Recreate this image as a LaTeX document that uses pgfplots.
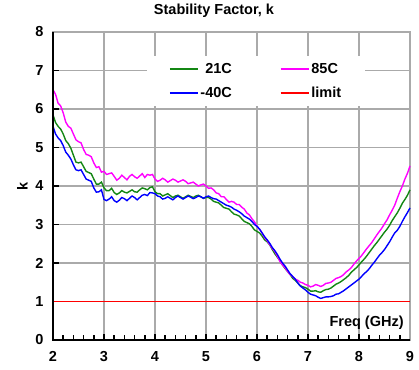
\documentclass[border=0pt]{standalone}
\usepackage{pgfplots}
\pgfplotsset{compat=1.18}
\usepackage{fontspec}
\setmainfont{Liberation Sans}
\definecolor{kgreen}{RGB}{20,135,20}
\definecolor{kmag}{RGB}{255,0,255}
\definecolor{kblue}{RGB}{0,0,255}
\definecolor{kred}{RGB}{255,0,0}
\definecolor{kgrid}{RGB}{170,170,170}
\newcommand{\chartfont}{\bfseries\fontsize{14.5}{17}\selectfont}
\begin{document}
\begin{tikzpicture}
\begin{axis}[
  scale only axis, width=357pt, height=308pt,
  xmin=2, xmax=9, ymin=0, ymax=8,
  xtick={2,3,4,5,6,7,8,9}, ytick={0,1,2,3,4,5,6,7,8},
  minor x tick num=4,
  axis line style={kgrid, line width=1.5pt},
  xmajorgrids, ymajorgrids,
  major grid style={kgrid, line width=1.5pt},
  tick align=inside,
  xtick pos=bottom, ytick pos=left,
  major tick length=6pt, minor tick length=5pt,
  every tick/.style={black, line width=1.5pt},
  /pgf/number format/assume math mode=true,
  ticklabel style={font=\chartfont},
  xticklabel style={yshift=-8pt},
  yticklabel style={xshift=-6pt},
  title={Stability Factor, k},
  title style={font=\chartfont, at={(axis description cs:0.451,1)}, anchor=base, yshift=11pt},
  xlabel={Freq (GHz)},
  every axis x label/.style={at={(axis description cs:0.992,0.055)}, anchor=east, font=\chartfont},
  ylabel={k},
  every axis y label/.style={at={(axis description cs:-0.086,0.5)}, anchor=center, rotate=90, font=\chartfont},
  legend columns=2,
  legend style={at={(axis description cs:0.263,0.922)}, anchor=north west, draw=none, fill=white,
    font=\chartfont, inner xsep=22pt, inner ysep=5pt, row sep=8pt,
    /tikz/every even column/.append style={column sep=46pt},
    nodes={inner sep=2pt}},
  legend cell align=left,
  legend image code/.code={\draw[#1] (0pt,0pt) -- (28pt,0pt);},
  clip=false,
]
\coordinate (sw) at (rel axis cs:0,0);
\coordinate (ne) at (rel axis cs:1,1);
\addplot[kgreen, line width=1.4pt] coordinates {
(2.00,5.85) (2.05,5.65) (2.10,5.55) (2.15,5.48) (2.20,5.35) (2.25,5.18) (2.30,5.10) (2.35,4.98) (2.40,4.80) (2.45,4.62)
(2.50,4.60) (2.55,4.62) (2.60,4.50) (2.65,4.38) (2.70,4.35) (2.75,4.32) (2.80,4.18) (2.85,4.05) (2.90,4.05) (2.95,4.10)
(3.00,3.95) (3.05,3.88) (3.10,3.88) (3.15,3.94) (3.20,3.83) (3.25,3.78) (3.30,3.82) (3.35,3.88) (3.40,3.84) (3.45,3.82)
(3.50,3.86) (3.55,3.90) (3.60,3.85) (3.65,3.84) (3.70,3.90) (3.75,3.95) (3.80,3.93) (3.85,3.90) (3.90,3.96) (3.95,3.98)
(4.00,3.85) (4.05,3.80) (4.10,3.80) (4.15,3.74) (4.20,3.77) (4.25,3.80) (4.30,3.75) (4.35,3.70) (4.40,3.74) (4.45,3.76)
(4.50,3.72) (4.55,3.68) (4.60,3.72) (4.65,3.76) (4.70,3.73) (4.75,3.70) (4.80,3.74) (4.85,3.76) (4.90,3.72) (4.95,3.68)
(5.00,3.70) (5.05,3.70) (5.10,3.66) (5.15,3.60) (5.20,3.58) (5.25,3.56) (5.30,3.50) (5.35,3.44) (5.40,3.42) (5.45,3.40)
(5.50,3.33) (5.55,3.27) (5.60,3.25) (5.65,3.22) (5.70,3.15) (5.75,3.08) (5.80,3.05) (5.85,3.02) (5.90,2.95) (5.95,2.86)
(6.00,2.82) (6.05,2.78) (6.10,2.70) (6.15,2.60) (6.20,2.55) (6.25,2.47) (6.30,2.35) (6.35,2.24) (6.40,2.15) (6.45,2.06)
(6.50,1.95) (6.55,1.86) (6.60,1.78) (6.65,1.70) (6.70,1.60) (6.75,1.55) (6.80,1.48) (6.85,1.41) (6.90,1.38) (6.95,1.36)
(7.00,1.32) (7.05,1.27) (7.10,1.27) (7.15,1.28) (7.20,1.25) (7.25,1.24) (7.30,1.28) (7.35,1.31) (7.40,1.32) (7.45,1.35)
(7.50,1.40) (7.55,1.45) (7.60,1.48) (7.65,1.52) (7.70,1.57) (7.75,1.62) (7.80,1.68) (7.85,1.76) (7.90,1.82) (7.95,1.88)
(8.00,1.95) (8.05,2.03) (8.10,2.10) (8.15,2.18) (8.20,2.27) (8.25,2.36) (8.30,2.45) (8.35,2.53) (8.40,2.62) (8.45,2.71)
(8.50,2.80) (8.55,2.88) (8.60,2.98) (8.65,3.10) (8.70,3.20) (8.75,3.30) (8.80,3.42) (8.85,3.55) (8.90,3.65) (8.95,3.76)
(9.00,3.90)};
\addlegendentry{\phantom{-}21C}
\addplot[kmag, line width=1.4pt] coordinates {
(2.00,6.50) (2.05,6.38) (2.10,6.15) (2.15,6.08) (2.20,5.90) (2.25,5.66) (2.30,5.55) (2.35,5.50) (2.40,5.35) (2.45,5.20)
(2.50,5.15) (2.55,5.12) (2.60,4.95) (2.65,4.82) (2.70,4.80) (2.75,4.76) (2.80,4.60) (2.85,4.48) (2.90,4.50) (2.95,4.36)
(3.00,4.38) (3.05,4.30) (3.10,4.32) (3.15,4.34) (3.20,4.25) (3.25,4.15) (3.30,4.20) (3.35,4.28) (3.40,4.22) (3.45,4.16)
(3.50,4.25) (3.55,4.30) (3.60,4.24) (3.65,4.20) (3.70,4.26) (3.75,4.32) (3.80,4.22) (3.85,4.30) (3.90,4.28) (3.95,4.30)
(4.00,4.18) (4.05,4.12) (4.10,4.15) (4.15,4.20) (4.20,4.16) (4.25,4.10) (4.30,4.14) (4.35,4.18) (4.40,4.15) (4.45,4.10)
(4.50,4.13) (4.55,4.16) (4.60,4.12) (4.65,4.06) (4.70,4.08) (4.75,4.10) (4.80,4.05) (4.85,4.00) (4.90,4.03) (4.95,4.05)
(5.00,4.00) (5.05,3.94) (5.10,3.95) (5.15,3.90) (5.20,3.82) (5.25,3.80) (5.30,3.72) (5.35,3.72) (5.40,3.65) (5.45,3.58)
(5.50,3.60) (5.55,3.58) (5.60,3.52) (5.65,3.52) (5.70,3.45) (5.75,3.40) (5.80,3.30) (5.85,3.25) (5.90,3.15) (5.95,3.07)
(6.00,2.95) (6.05,2.88) (6.10,2.78) (6.15,2.66) (6.20,2.58) (6.25,2.48) (6.30,2.38) (6.35,2.30) (6.40,2.18) (6.45,2.04)
(6.50,1.95) (6.55,1.88) (6.60,1.78) (6.65,1.70) (6.70,1.65) (6.75,1.58) (6.80,1.55) (6.85,1.50) (6.90,1.48) (6.95,1.44)
(7.00,1.42) (7.05,1.38) (7.10,1.40) (7.15,1.44) (7.20,1.42) (7.25,1.39) (7.30,1.42) (7.35,1.47) (7.40,1.48) (7.45,1.50)
(7.50,1.55) (7.55,1.60) (7.60,1.62) (7.65,1.65) (7.70,1.70) (7.75,1.77) (7.80,1.82) (7.85,1.88) (7.90,1.97) (7.95,2.05)
(8.00,2.12) (8.05,2.19) (8.10,2.28) (8.15,2.37) (8.20,2.45) (8.25,2.53) (8.30,2.63) (8.35,2.73) (8.40,2.82) (8.45,2.91)
(8.50,3.02) (8.55,3.12) (8.60,3.25) (8.65,3.37) (8.70,3.50) (8.75,3.68) (8.80,3.85) (8.85,4.00) (8.90,4.18) (8.95,4.33)
(9.00,4.52)};
\addlegendentry{85C}
\addplot[kblue, line width=1.4pt] coordinates {
(2.00,5.55) (2.05,5.35) (2.10,5.25) (2.15,5.18) (2.20,5.05) (2.25,4.88) (2.30,4.80) (2.35,4.70) (2.40,4.55) (2.45,4.42)
(2.50,4.40) (2.55,4.42) (2.60,4.30) (2.65,4.18) (2.70,4.15) (2.75,4.12) (2.80,3.95) (2.85,3.84) (2.90,3.85) (2.95,3.90)
(3.00,3.65) (3.05,3.62) (3.10,3.66) (3.15,3.72) (3.20,3.62) (3.25,3.58) (3.30,3.63) (3.35,3.70) (3.40,3.67) (3.45,3.62)
(3.50,3.68) (3.55,3.74) (3.60,3.70) (3.65,3.64) (3.70,3.70) (3.75,3.76) (3.80,3.78) (3.85,3.75) (3.90,3.83) (3.95,3.82)
(4.00,3.80) (4.05,3.74) (4.10,3.72) (4.15,3.66) (4.20,3.68) (4.25,3.72) (4.30,3.68) (4.35,3.64) (4.40,3.70) (4.45,3.74)
(4.50,3.70) (4.55,3.66) (4.60,3.70) (4.65,3.74) (4.70,3.71) (4.75,3.67) (4.80,3.70) (4.85,3.74) (4.90,3.72) (4.95,3.68)
(5.00,3.72) (5.05,3.74) (5.10,3.70) (5.15,3.67) (5.20,3.66) (5.25,3.62) (5.30,3.58) (5.35,3.54) (5.40,3.50) (5.45,3.48)
(5.50,3.45) (5.55,3.40) (5.60,3.37) (5.65,3.33) (5.70,3.28) (5.75,3.22) (5.80,3.18) (5.85,3.14) (5.90,3.08) (5.95,3.00)
(6.00,2.95) (6.05,2.88) (6.10,2.78) (6.15,2.68) (6.20,2.60) (6.25,2.51) (6.30,2.40) (6.35,2.32) (6.40,2.22) (6.45,2.10)
(6.50,2.00) (6.55,1.92) (6.60,1.82) (6.65,1.72) (6.70,1.65) (6.75,1.58) (6.80,1.48) (6.85,1.40) (6.90,1.35) (6.95,1.30)
(7.00,1.24) (7.05,1.19) (7.10,1.17) (7.15,1.15) (7.20,1.11) (7.25,1.08) (7.30,1.10) (7.35,1.12) (7.40,1.12) (7.45,1.13)
(7.50,1.15) (7.55,1.19) (7.60,1.20) (7.65,1.24) (7.70,1.28) (7.75,1.33) (7.80,1.38) (7.85,1.43) (7.90,1.48) (7.95,1.53)
(8.00,1.58) (8.05,1.65) (8.10,1.72) (8.15,1.78) (8.20,1.85) (8.25,1.94) (8.30,2.02) (8.35,2.11) (8.40,2.20) (8.45,2.27)
(8.50,2.35) (8.55,2.45) (8.60,2.55) (8.65,2.67) (8.70,2.78) (8.75,2.85) (8.80,2.95) (8.85,3.08) (8.90,3.20) (8.95,3.31)
(9.00,3.43)};
\addlegendentry{-40C}
\addplot[kred, line width=1.5pt] coordinates {(2,1) (9,1)};
\addlegendentry{limit}
\draw[black, line width=1.6pt] (rel axis cs:0,1) -- (rel axis cs:0,0) -- (rel axis cs:1,0);
\end{axis}
\pgfresetboundingbox
\path ([shift={(-53pt,-30pt)}]sw) rectangle ([shift={(9pt,32pt)}]ne);
\end{tikzpicture}
\end{document}
